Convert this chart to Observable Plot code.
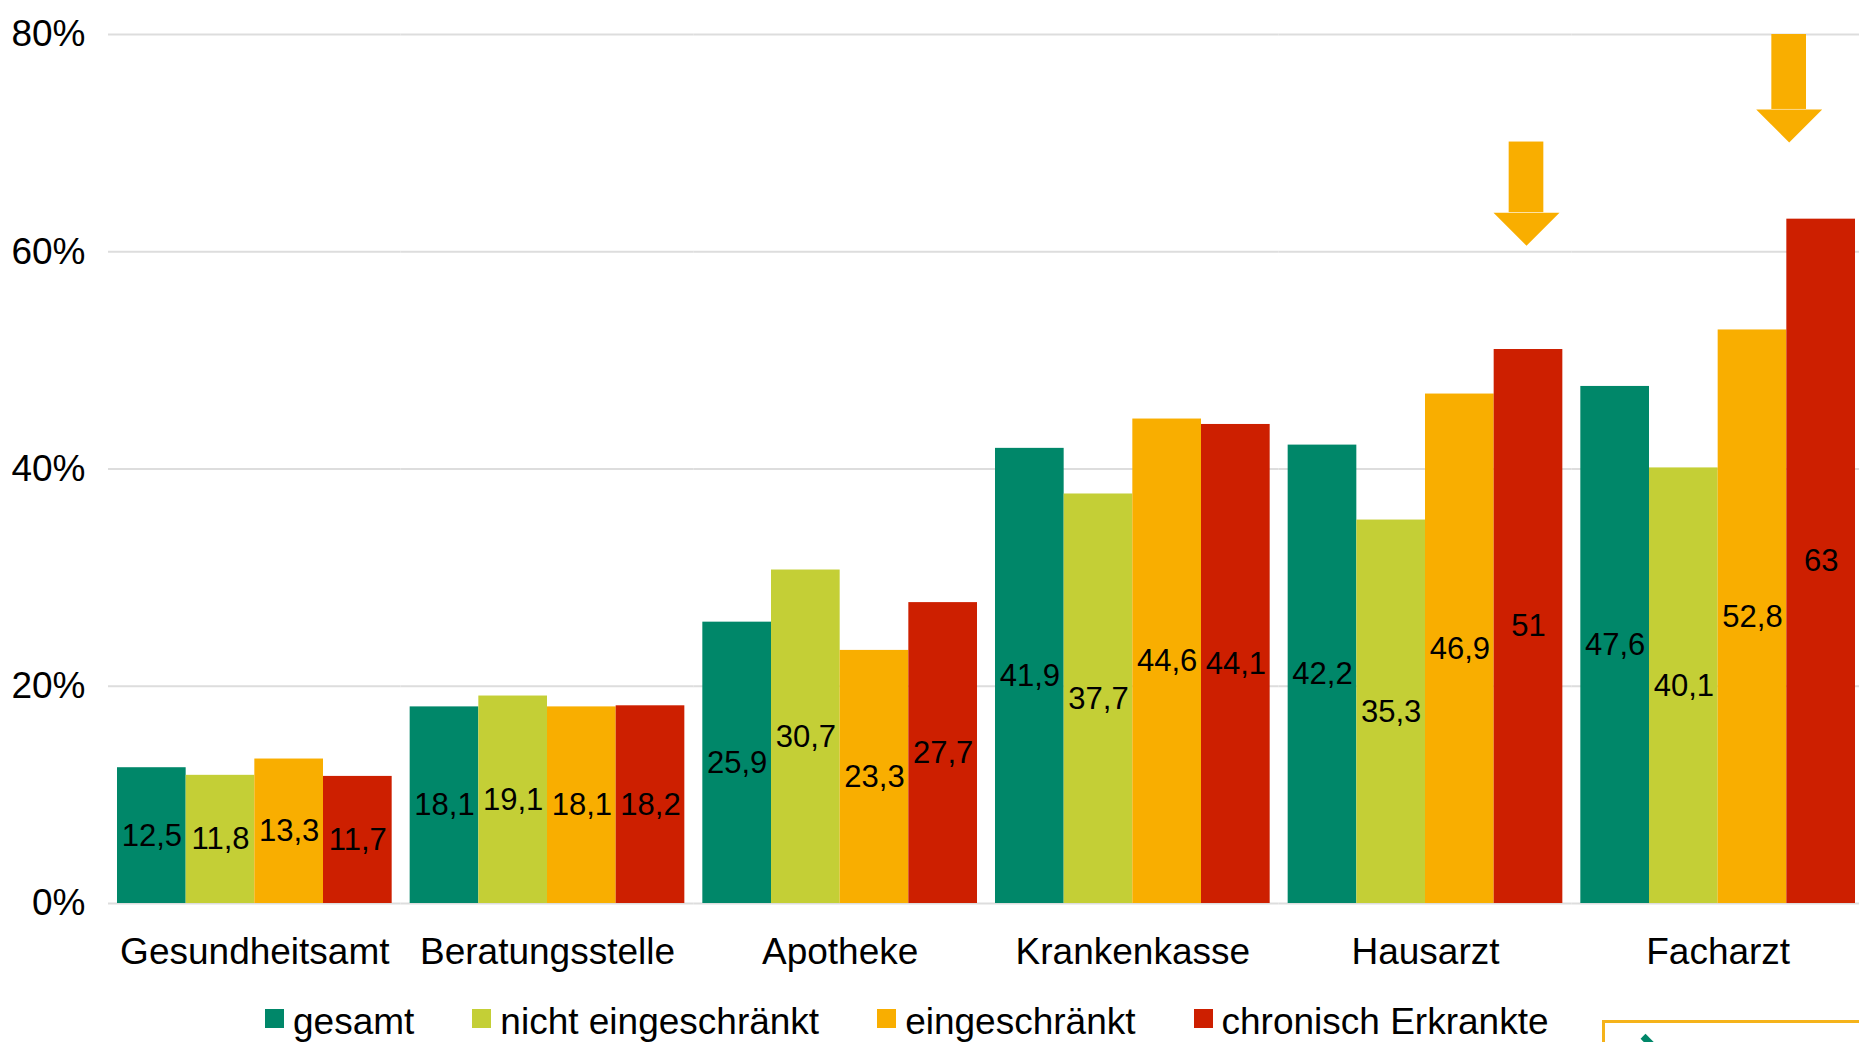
<!DOCTYPE html>
<html>
<head>
<meta charset="utf-8">
<script src="https://cdn.jsdelivr.net/npm/d3@7"></script>
<script src="https://cdn.jsdelivr.net/npm/@observablehq/plot@0.6"></script>
<style>
  html, body { margin: 0; padding: 0; width: 1859px; height: 1042px; overflow: hidden; background: #fff; }
  #wrap { position: relative; width: 1859px; height: 1042px; overflow: hidden; font-family: "Liberation Sans", Arial, sans-serif; }
  #chart { position: absolute; left: 0; top: 0; }
  #legend { position: absolute; left: 265px; top: 1003px; display: flex; gap: 58px; font-size: 37px; line-height: 37px; color: #000; white-space: nowrap; }
  #legend .item { display: flex; align-items: flex-start; }
  #legend .sw { width: 19px; height: 19px; margin-top: 6px; margin-right: 9px; flex: none; }
  #box { position: absolute; left: 1602px; top: 1020px; width: 320px; height: 60px; border: 3px solid #f5b31a; box-sizing: border-box; }
  #box .chev { position: absolute; left: 28px; top: 16px; width: 18px; height: 18px; border-top: 7px solid #008769; border-right: 7px solid #008769; transform: rotate(45deg); }
</style>
</head>
<body>
<div id="wrap">
  <div id="chart"></div>
  <div id="legend"></div>
  <div id="box"><div class="chev"></div></div>
</div>
<script>
const categories = ["Gesundheitsamt", "Beratungsstelle", "Apotheke", "Krankenkasse", "Hausarzt", "Facharzt"];
const series = ["gesamt", "nicht eingeschränkt", "eingeschränkt", "chronisch Erkrankte"];
const gesamt = [12.5, 18.1, 25.9, 41.9, 42.2, 47.6];
const nichtEingeschraenkt = [11.8, 19.1, 30.7, 37.7, 35.3, 40.1];
const eingeschraenkt = [13.3, 18.1, 23.3, 44.6, 46.9, 52.8];
const chronisch = [11.7, 18.2, 27.7, 44.1, 51, 63];
const colors = ["#008769", "#c4cf36", "#f9ae00", "#cd1f00"];
const yTicks = [0, 20, 40, 60, 80];

// annotation arrows (category, series, shaft top %, arrow-head start %)
const arrowCats = ["Hausarzt", "Facharzt"];
const arrowTop = [70.1, 80];
const arrowHead = [63.6, 73.1];

const valuesBySeries = [gesamt, nichtEingeschraenkt, eingeschraenkt, chronisch];
const table = categories.flatMap((c, i) => series.map((s, j) => ({category: c, series: s, value: valuesBySeries[j][i]})));
const arrows = arrowCats.map((c, i) => ({category: c, series: "chronisch Erkrankte", top: arrowTop[i], head: arrowHead[i]}));

const fmt = v => String(v).replace(".", ",");
const headSymbol = {
  draw(ctx, size) {
    const r = Math.sqrt(size / Math.PI);
    ctx.moveTo(-r, 0);
    ctx.lineTo(r, 0);
    ctx.lineTo(0, r);
    ctx.closePath();
  }
};
const orange = colors[2];
function arrowMarks(data, dx) {
  return [
    Plot.barY(data, {x: "series", fx: "category", y1: "head", y2: "top", fill: orange, insetLeft: 17, insetRight: 17, dx}),
    Plot.dot(data, {x: "series", fx: "category", y: "head", r: 33, symbol: headSymbol, fill: orange, stroke: "none", dx})
  ];
}

const chart = Plot.plot({
  width: 1859,
  height: 990,
  marginTop: 34,
  marginBottom: 87,
  marginLeft: 108,
  marginRight: -5,
  style: {fontFamily: "'Liberation Sans', Arial, sans-serif", fontSize: "37px", color: "#000", background: "#fff"},
  fx: {domain: categories, padding: 0, round: false, label: null, axis: "bottom", tickSize: 0, tickPadding: 34},
  x: {domain: series, paddingInner: 0, paddingOuter: 0.131, round: false, axis: null},
  y: {domain: [0, 80], ticks: yTicks, tickFormat: d => d + "%", label: null, tickSize: 0, tickPadding: 23},
  color: {domain: series, range: colors},
  marks: [
    Plot.ruleY(yTicks, {stroke: "#dddddd", strokeWidth: 2}),
    Plot.barY(table, {x: "series", fx: "category", y: "value", fill: "series"}),
    Plot.text(table, {x: "series", fx: "category", y: d => d.value / 2, text: d => fmt(d.value), fontSize: 31, fill: "#000"}),
    ...arrowMarks(arrows.filter(d => d.category === "Hausarzt"), -2),
    ...arrowMarks(arrows.filter(d => d.category === "Facharzt"), -32)
  ]
});
document.getElementById("chart").appendChild(chart);

const legend = document.getElementById("legend");
series.forEach((s, i) => {
  const item = document.createElement("div");
  item.className = "item";
  const sw = document.createElement("div");
  sw.className = "sw";
  sw.style.background = colors[i];
  const t = document.createElement("span");
  t.textContent = s;
  item.appendChild(sw);
  item.appendChild(t);
  legend.appendChild(item);
});
</script>
</body>
</html>
